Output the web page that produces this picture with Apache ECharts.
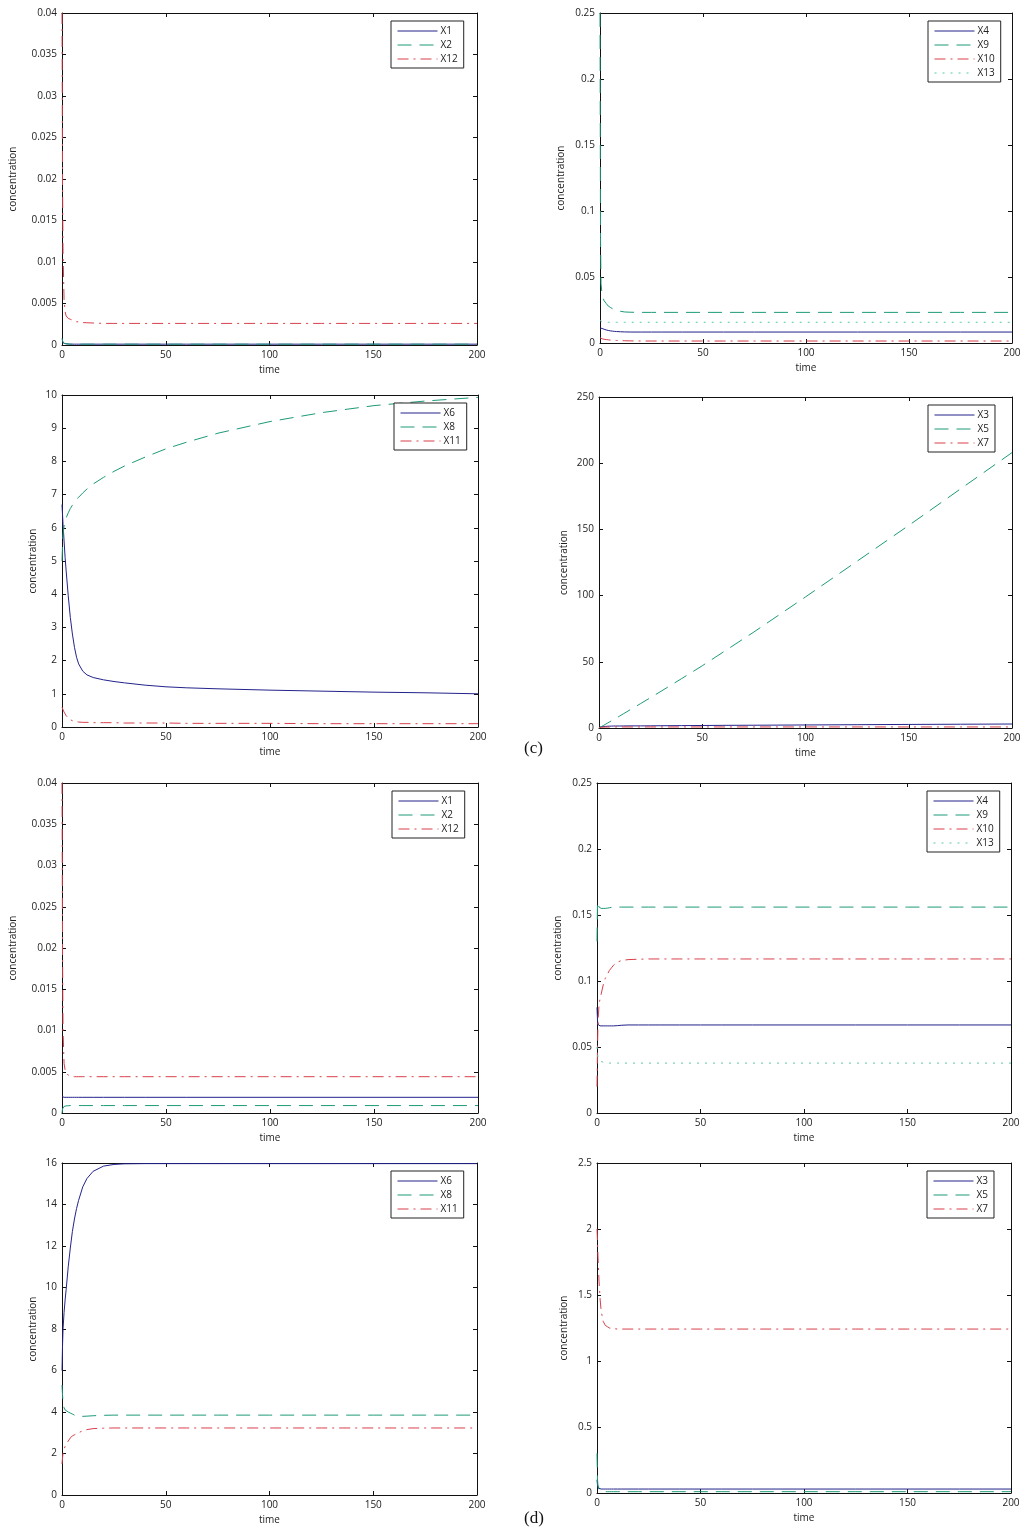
<!DOCTYPE html>
<html>
<head>
<meta charset="utf-8">
<script src="https://cdn.jsdelivr.net/npm/echarts@6/dist/echarts.min.js"></script>
<style>
  html, body { margin: 0; padding: 0; background: #fff; }
  #chart { width: 1025px; height: 1532px; }
</style>
</head>
<body>
<div id="chart"></div>
<script>
// sample times shared by every curve
const time = [0, 0.25, 0.5, 1, 1.5, 2, 3, 4, 5,
  6, 7, 8, 10, 12, 15, 20, 25, 30,
  40, 50, 60, 75, 100, 125, 150, 175, 200]

// panel 1 (top left)
const p1X1 = [0.0004, 0.0003, 0.00025, 0.0002, 0.00017, 0.00015, 0.00012, 0.0001, 0.0001,
  0.0001, 0.0001, 0.0001, 0.0001, 0.0001, 0.0001, 0.0001, 0.0001, 0.0001,
  0.0001, 0.0001, 0.0001, 0.0001, 0.0001, 0.0001, 0.0001, 0.0001, 0.0001]
const p1X2 = [0.0008, 0.0005, 0.0003, 0.0002, 0.00016, 0.00014, 0.00012, 0.0001, 0.0001,
  0.0001, 0.0001, 0.0001, 0.0001, 0.0001, 0.0001, 0.0001, 0.0001, 0.0001,
  0.0001, 0.0001, 0.0001, 0.0001, 0.0001, 0.0001, 0.0001, 0.0001, 0.0001]
const p1X12 = [0.040, 0.02, 0.011, 0.0055, 0.0040, 0.0035, 0.0032, 0.0031, 0.0030,
  0.0029, 0.0028, 0.0028, 0.0027, 0.00268, 0.00265, 0.0026, 0.0026, 0.0026,
  0.0026, 0.0026, 0.0026, 0.0026, 0.0026, 0.0026, 0.0026, 0.0026, 0.0026]

// panel 2 (top right)
const p2X4 = [0.0114, 0.0113, 0.0112, 0.011, 0.0107, 0.0104, 0.0099, 0.0095, 0.0092,
  0.009, 0.0088, 0.0087, 0.0085, 0.0084, 0.0083, 0.0083, 0.0083, 0.0083,
  0.0083, 0.0083, 0.0083, 0.0083, 0.0083, 0.0083, 0.0083, 0.0083, 0.0083]
const p2X9 = [0.25, 0.08, 0.045, 0.037, 0.034, 0.032, 0.030, 0.028, 0.027,
  0.026, 0.025, 0.0245, 0.024, 0.0235, 0.0233, 0.0232, 0.0232, 0.0232,
  0.0232, 0.0232, 0.0232, 0.0232, 0.0232, 0.0232, 0.0232, 0.0232, 0.0232]
const p2X10 = [0.004, 0.0037, 0.0035, 0.0032, 0.003, 0.0028, 0.0026, 0.0024, 0.0022,
  0.0021, 0.002, 0.0019, 0.0018, 0.0017, 0.0016, 0.0015, 0.0015, 0.0015,
  0.0015, 0.0015, 0.0015, 0.0015, 0.0015, 0.0015, 0.0015, 0.0015, 0.0015]
const p2X13 = [0.017, 0.0168, 0.0166, 0.0163, 0.0161, 0.016, 0.0158, 0.0157, 0.0157,
  0.0157, 0.0157, 0.0157, 0.0157, 0.0157, 0.0157, 0.0157, 0.0157, 0.0157,
  0.0157, 0.0157, 0.0157, 0.0157, 0.0157, 0.0157, 0.0157, 0.0157, 0.0157]

// panel 3 (second row left)
const p3X6 = [6.7, 6.4, 6.1, 5.6, 5.1, 4.7, 3.95, 3.3, 2.8,
  2.4, 2.1, 1.9, 1.68, 1.57, 1.49, 1.42, 1.37, 1.33,
  1.26, 1.21, 1.18, 1.15, 1.11, 1.08, 1.05, 1.03, 1.0]
const p3X8 = [5.0, 5.5, 5.8, 6.05, 6.2, 6.3, 6.45, 6.58, 6.68,
  6.77, 6.85, 6.92, 7.05, 7.17, 7.32, 7.52, 7.7, 7.86,
  8.13, 8.38, 8.58, 8.85, 9.2, 9.47, 9.68, 9.82, 9.93]
const p3X11 = [0.6, 0.56, 0.52, 0.45, 0.39, 0.34, 0.27, 0.22, 0.19,
  0.17, 0.16, 0.15, 0.14, 0.14, 0.13, 0.13, 0.13, 0.12,
  0.12, 0.12, 0.11, 0.11, 0.11, 0.1, 0.1, 0.1, 0.1]

// panel 4 (second row right)
const p4X3 = [0.5, 0.6, 0.7, 0.9, 1.0, 1.1, 1.2, 1.3, 1.4,
  1.45, 1.5, 1.5, 1.5, 1.55, 1.6, 1.6, 1.65, 1.7,
  1.8, 1.9, 2.0, 2.1, 2.3, 2.5, 2.7, 2.85, 3.0]
const p4X5 = [0, 0.2, 0.45, 0.9, 1.35, 1.8, 2.7, 3.6, 4.5,
  5.4, 6.3, 7.2, 9, 10.9, 13.7, 18.3, 23, 27.7,
  37.3, 47, 57.2, 72.5, 99, 126, 153, 180.5, 208]
const p4X7 = [0.2, 0.3, 0.4, 0.5, 0.55, 0.6, 0.7, 0.7, 0.75,
  0.8, 0.8, 0.8, 0.8, 0.8, 0.8, 0.8, 0.8, 0.8,
  0.8, 0.8, 0.8, 0.8, 0.8, 0.8, 0.8, 0.8, 0.8]

// panel 5 (third row left)
const p5X1 = [0.002, 0.0019, 0.0019, 0.0019, 0.0019, 0.0019, 0.0019, 0.0019, 0.0019,
  0.0019, 0.0019, 0.0019, 0.0019, 0.0019, 0.0019, 0.0019, 0.0019, 0.0019,
  0.0019, 0.0019, 0.0019, 0.0019, 0.0019, 0.0019, 0.0019, 0.0019, 0.0019]
const p5X2 = [0.0, 0.0005, 0.0007, 0.0008, 0.00083, 0.00086, 0.00088, 0.0009, 0.0009,
  0.0009, 0.0009, 0.0009, 0.0009, 0.0009, 0.0009, 0.0009, 0.0009, 0.0009,
  0.0009, 0.0009, 0.0009, 0.0009, 0.0009, 0.0009, 0.0009, 0.0009, 0.0009]
const p5X12 = [0.040, 0.02, 0.01, 0.006, 0.0052, 0.0048, 0.0046, 0.0045, 0.0045,
  0.0044, 0.0044, 0.0044, 0.0044, 0.0044, 0.0044, 0.0044, 0.0044, 0.0044,
  0.0044, 0.0044, 0.0044, 0.0044, 0.0044, 0.0044, 0.0044, 0.0044, 0.0044]

// panel 6 (third row right)
const p6X4 = [0.08, 0.07, 0.067, 0.0665, 0.066, 0.066, 0.066, 0.066, 0.066,
  0.066, 0.066, 0.066, 0.0662, 0.0665, 0.0667, 0.0667, 0.0667, 0.0667,
  0.0667, 0.0667, 0.0667, 0.0667, 0.0667, 0.0667, 0.0667, 0.0667, 0.0667]
const p6X9 = [0.13, 0.16, 0.158, 0.156, 0.1555, 0.155, 0.155, 0.155, 0.1552,
  0.1555, 0.1558, 0.156, 0.156, 0.156, 0.156, 0.156, 0.156, 0.156,
  0.156, 0.156, 0.156, 0.156, 0.156, 0.156, 0.156, 0.156, 0.156]
const p6X10 = [0.02, 0.05, 0.07, 0.082, 0.087, 0.09, 0.097, 0.102, 0.105,
  0.108, 0.110, 0.112, 0.1145, 0.1155, 0.1162, 0.1165, 0.1167, 0.1167,
  0.1167, 0.1167, 0.1167, 0.1167, 0.1167, 0.1167, 0.1167, 0.1167, 0.1167]
const p6X13 = [0.05, 0.045, 0.042, 0.04, 0.0395, 0.039, 0.0385, 0.038, 0.0378,
  0.0378, 0.0378, 0.0378, 0.0378, 0.0378, 0.0378, 0.0378, 0.0378, 0.0378,
  0.0378, 0.0378, 0.0378, 0.0378, 0.0378, 0.0378, 0.0378, 0.0378, 0.0378]

// panel 7 (bottom left)
const p7X6 = [6, 7.2, 8.0, 8.8, 9.4, 9.9, 11, 11.9, 12.7,
  13.3, 13.8, 14.2, 14.85, 15.25, 15.6, 15.85, 15.93, 15.96,
  15.97, 15.97, 15.97, 15.97, 15.97, 15.97, 15.97, 15.97, 15.97]
const p7X8 = [5.3, 4.8, 4.5, 4.2, 4.1, 4.05, 4.0, 3.95, 3.9,
  3.85, 3.8, 3.78, 3.79, 3.8, 3.82, 3.84, 3.85, 3.85,
  3.85, 3.85, 3.85, 3.85, 3.85, 3.85, 3.85, 3.85, 3.85]
const p7X11 = [1.5, 1.8, 2.0, 2.2, 2.35, 2.45, 2.6, 2.75, 2.85,
  2.9, 2.95, 3.0, 3.1, 3.15, 3.2, 3.22, 3.23, 3.23,
  3.23, 3.23, 3.23, 3.23, 3.23, 3.23, 3.23, 3.23, 3.23]

// panel 8 (bottom right)
const p8X3 = [0.1, 0.06, 0.045, 0.035, 0.032, 0.03, 0.03, 0.03, 0.03,
  0.03, 0.03, 0.03, 0.03, 0.03, 0.03, 0.03, 0.03, 0.03,
  0.03, 0.03, 0.03, 0.03, 0.03, 0.03, 0.03, 0.03, 0.03]
const p8X5 = [0.3, 0.1, 0.05, 0.02, 0.017, 0.015, 0.012, 0.01, 0.01,
  0.01, 0.01, 0.01, 0.01, 0.01, 0.01, 0.01, 0.01, 0.01,
  0.01, 0.01, 0.01, 0.01, 0.01, 0.01, 0.01, 0.01, 0.01]
const p8X7 = [2.0, 1.9, 1.78, 1.6, 1.47, 1.38, 1.3, 1.27, 1.26,
  1.25, 1.248, 1.245, 1.242, 1.242, 1.242, 1.242, 1.242, 1.242,
  1.242, 1.242, 1.242, 1.242, 1.242, 1.242, 1.242, 1.242, 1.242]

// axis ranges per panel
const yMax = [0.04, 0.25, 10, 250, 0.04, 0.25, 16, 2.5]
const yStep = [0.005, 0.05, 1, 50, 0.005, 0.05, 2, 0.5]

const solid = { color: '#23238c', type: 'solid' }
const dashed = { color: '#1d9a78', type: [14, 8] }
const dashDot = { color: '#d8404c', type: [11, 5, 2, 5] }
const dotted = { color: '#5cc8a4', type: [2, 6] }

const panels = [
  { grid: { left: 62, top: 13, width: 415, height: 332 }, nameGap: 44,
    lines: [['X1', p1X1, solid], ['X2', p1X2, dashed], ['X12', p1X12, dashDot]],
    legend: { right: 10, top: 8 } },
  { grid: { left: 600, top: 13, width: 412, height: 330 }, nameGap: 34,
    lines: [['X4', p2X4, solid], ['X9', p2X9, dashed], ['X10', p2X10, dashDot], ['X13', p2X13, dotted]],
    legend: { right: 8, top: 8 } },
  { grid: { left: 62, top: 395, width: 416, height: 332 }, nameGap: 24,
    lines: [['X6', p3X6, solid], ['X8', p3X8, dashed], ['X11', p3X11, dashDot]],
    legend: { right: 8, top: 8 } },
  { grid: { left: 599, top: 397, width: 413, height: 331 }, nameGap: 30,
    lines: [['X3', p4X3, solid], ['X5', p4X5, dashed], ['X7', p4X7, dashDot]],
    legend: { right: 8, top: 8 } },
  { grid: { left: 62, top: 783, width: 416, height: 330 }, nameGap: 44,
    lines: [['X1', p5X1, solid], ['X2', p5X2, dashed], ['X12', p5X12, dashDot]],
    legend: { right: 10, top: 8 } },
  { grid: { left: 597, top: 783, width: 414, height: 330 }, nameGap: 34,
    lines: [['X4', p6X4, solid], ['X9', p6X9, dashed], ['X10', p6X10, dashDot], ['X13', p6X13, dotted]],
    legend: { right: 8, top: 8 } },
  { grid: { left: 62, top: 1163, width: 415, height: 332 }, nameGap: 24,
    lines: [['X6', p7X6, solid], ['X8', p7X8, dashed], ['X11', p7X11, dashDot]],
    legend: { right: 10, top: 8 } },
  { grid: { left: 597, top: 1163, width: 414, height: 330 }, nameGap: 28,
    lines: [['X3', p8X3, solid], ['X5', p8X5, dashed], ['X7', p8X7, dashDot]],
    legend: { right: 8, top: 8 } }
]

const font = 'Open Sans, Noto Sans, sans-serif'
const axisLine = { show: true, onZero: false, lineStyle: { color: '#111', width: 1 } }
const tick = { show: true, inside: true, length: 4, lineStyle: { color: '#111' } }
const label = { color: '#222', fontSize: 10, fontFamily: font, margin: 5 }

const chart = echarts.init(document.getElementById('chart'))

const grid = []
const xAxis = []
const yAxis = []
const series = []
const legend = []

panels.forEach((p, i) => {
  grid.push(p.grid)
  // bottom + mirrored top x axis
  xAxis.push({
    type: 'value', gridIndex: i, min: 0, max: 200, interval: 50,
    name: 'time', nameLocation: 'middle', nameGap: 20,
    nameTextStyle: { fontSize: 10, color: '#222', fontFamily: font },
    axisLine, axisTick: tick, axisLabel: label, splitLine: { show: false }
  })
  xAxis.push({
    type: 'value', gridIndex: i, position: 'top', min: 0, max: 200, interval: 50,
    axisLine, axisTick: tick, axisLabel: { show: false }, splitLine: { show: false }
  })
  yAxis.push({
    type: 'value', gridIndex: i, min: 0, max: yMax[i], interval: yStep[i],
    name: 'concentration', nameLocation: 'middle', nameGap: p.nameGap,
    nameTextStyle: { fontSize: 10, color: '#222', fontFamily: font },
    axisLine, axisTick: tick, axisLabel: label, splitLine: { show: false }
  })
  yAxis.push({
    type: 'value', gridIndex: i, position: 'right', min: 0, max: yMax[i], interval: yStep[i],
    axisLine, axisTick: tick, axisLabel: { show: false }, splitLine: { show: false }
  })
  p.lines.forEach(([name, vals, style]) => {
    series.push({
      name,
      type: 'line',
      xAxisIndex: i * 2,
      yAxisIndex: i * 2,
      data: time.map((t, k) => [t, vals[k]]),
      showSymbol: false,
      symbol: 'none',
      smooth: false,
      lineStyle: { width: 1, color: style.color, type: style.type },
      itemStyle: { color: style.color }
    })
  })
  const g = p.grid
  legend.push({
    data: p.lines.map(l => l[0]),
    orient: 'vertical',
    left: g.left + g.width - p.legend.right - 76,
    top: g.top + p.legend.top,
    width: 76,
    itemWidth: 40,
    itemHeight: 8,
    itemGap: 4,
    padding: [5, 6, 4, 6],
    backgroundColor: '#fff',
    borderColor: '#222',
    borderWidth: 1,
    selectedMode: false,
    itemStyle: { opacity: 0 },
    lineStyle: { width: 1 },
    textStyle: { fontSize: 10, color: '#222', fontFamily: font, padding: [0, 0, 0, -2] }
  })
})

chart.setOption({
  animation: false,
  backgroundColor: '#fff',
  grid,
  xAxis,
  yAxis,
  legend,
  series,
  graphic: [
    { type: 'text', left: 524, top: 740, style: { text: '(c)', fontSize: 17, fontFamily: 'Liberation Serif, DejaVu Serif, serif', fill: '#111' } },
    { type: 'text', left: 524, top: 1510, style: { text: '(d)', fontSize: 17, fontFamily: 'Liberation Serif, DejaVu Serif, serif', fill: '#111' } }
  ]
})
</script>
</body>
</html>
